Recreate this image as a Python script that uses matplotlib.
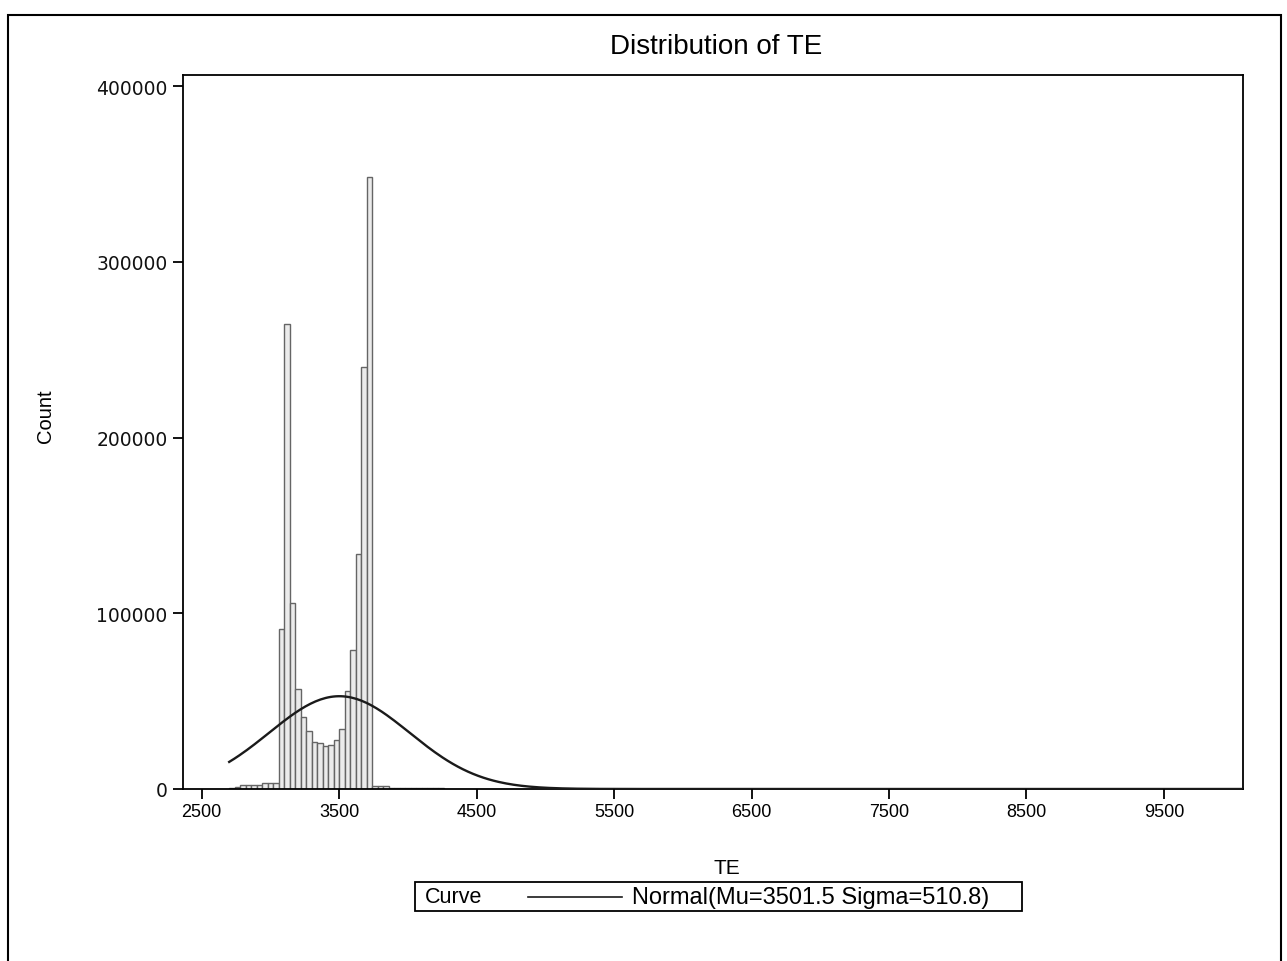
import numpy as np
import matplotlib
matplotlib.use("Agg")
import matplotlib.pyplot as plt
from matplotlib.patches import Rectangle
from matplotlib.lines import Line2D

# ---------------- data ----------------
bin_start = 2700
bin_width = 40
counts = [800, 1000, 2000, 2000, 2000, 2000, 3500, 3500, 3500,
          91000, 264500, 106000, 57000, 41000, 33000, 26500, 26000, 24500,
          25000, 28000, 34000, 56000, 79000, 133500, 240000, 348000,
          1700, 1700, 1700, 700, 650, 600, 600, 550, 500, 450, 400, 350, 300]
bin_lefts = [bin_start + bin_width * i for i in range(len(counts))]

mu = 3501.5
sigma = 510.8
curve_peak = 52800          # height of fitted curve at mu
curve_x_range = (2700, 10075)

x_ticks = [2500, 3500, 4500, 5500, 6500, 7500, 8500, 9500]
y_ticks = [0, 100000, 200000, 300000, 400000]

title = "Distribution of TE"
xlabel = "TE"
ylabel = "Count"
legend_title = "Curve"
legend_label = "Normal(Mu=3501.5 Sigma=510.8)"

# ---------------- figure ----------------
W, H = 1287, 962
fig = plt.figure(figsize=(W / 100, H / 100), dpi=100)
fig.patch.set_facecolor("white")

regular = ["Liberation Sans", "DejaVu Sans"]
wide = ["DejaVu Sans"]

def fx(px):
    return px / W

def fy(py):
    return 1 - py / H

ax_l, ax_r, ax_t, ax_b = 183, 1243, 76, 790
ax = fig.add_axes([fx(ax_l), fy(ax_b), (ax_r - ax_l) / W, (ax_b - ax_t) / H])

ax.bar(bin_lefts, counts, width=bin_width, align="edge",
       facecolor="#ebebeb", edgecolor="#656565", linewidth=1.0, zorder=2)

xs = np.linspace(curve_x_range[0], curve_x_range[1], 400)
ys = curve_peak * np.exp(-0.5 * ((xs - mu) / sigma) ** 2)
ax.plot(xs, ys, color="#1a1a1a", linewidth=1.7, zorder=3)

ax.set_xlim(2364, 10075)
ax.set_ylim(0, 406300)
ax.set_xticks(x_ticks)
ax.set_xticklabels([str(t) for t in x_ticks])
ax.set_yticks(y_ticks)
ax.set_yticklabels([str(t) for t in y_ticks])

for sp in ax.spines.values():
    sp.set_linewidth(1.3)
    sp.set_color("black")

ax.tick_params(axis="both", direction="out", length=7, width=1.3,
               color="black", pad=4)
ax.tick_params(axis="x", pad=3)
for lab in ax.get_xticklabels():
    lab.set_family(regular)
    lab.set_fontsize(13)
for lab in ax.get_yticklabels():
    lab.set_family(wide)
    lab.set_fontsize(13.5)
    lab.set_color("#111111")

# titles / labels
fig.text(fx(716), fy(47), title, ha="center", va="center",
         fontsize=20, family=regular)
fig.text(fx(727), fy(868), xlabel, ha="center", va="center",
         fontsize=15, family=regular)
fig.text(fx(45), fy(416), ylabel, ha="center", va="center",
         fontsize=14.5, family=regular, rotation=90)

# legend box (manual)
leg_l, leg_r, leg_t, leg_b = 415, 1022, 883, 912
fig.patches.append(Rectangle((fx(leg_l), fy(leg_b)), (leg_r - leg_l) / W,
                             (leg_b - leg_t) / H, transform=fig.transFigure,
                             facecolor="white", edgecolor="black", linewidth=1.3))
fig.text(fx(425), fy(898), legend_title, ha="left", va="center",
         fontsize=15.5, family=regular)
fig.lines.append(Line2D([fx(528), fx(622)], [fy(897.5), fy(897.5)],
                        transform=fig.transFigure, color="#1a1a1a", linewidth=1.2))
fig.text(fx(632), fy(898), legend_label, ha="left", va="center",
         fontsize=17, family=regular)

# outer border
fig.patches.append(Rectangle((fx(8), fy(H + 20)), (1281 - 8) / W, (H + 20 - 16) / H,
                             transform=fig.transFigure, facecolor="none",
                             edgecolor="black", linewidth=1.5, clip_on=False))

fig.savefig("out.png", dpi=100)
